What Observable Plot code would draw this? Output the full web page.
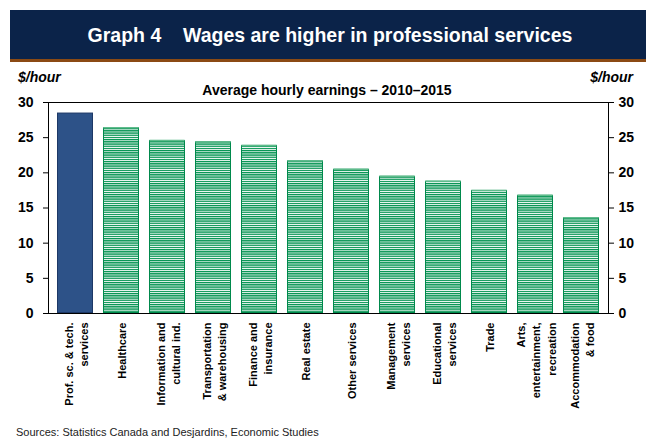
<!DOCTYPE html>
<html>
<head>
<meta charset="utf-8">
<script src="https://cdn.jsdelivr.net/npm/d3@7"></script>
<script src="https://cdn.jsdelivr.net/npm/@observablehq/plot@0.6"></script>
<style>
  html, body { margin: 0; padding: 0; background: #fff; }
  #wrap { position: relative; width: 646px; height: 439px; overflow: hidden; font-family: "Liberation Sans", Arial, sans-serif; }
  #header { position: absolute; left: 10px; top: 10px; width: 636px; height: 49px; background: #0b2349; border-bottom: 3px solid #8b4a14; }
  #title { position: absolute; left: 0; width: 640px; text-align: center; color: #fff; font-weight: bold; font-size: 19.5px; line-height: 19.5px; top: 16px; white-space: pre; }
  .unit { position: absolute; top: 70px; font-size: 14px; line-height: 14px; font-weight: bold; font-style: italic; color: #000; }
  #subtitle { position: absolute; left: 0; width: 654px; text-align: center; top: 83px; font-size: 14px; line-height: 14px; font-weight: bold; color: #000; }
  #source { position: absolute; left: 16px; top: 426px; font-size: 11px; line-height: 12px; color: #222; white-space: nowrap; }
  #chart { position: absolute; left: 0; top: 62px; }
</style>
</head>
<body>
<div id="wrap">
  <div id="header"><div id="title">Graph 4    Wages are higher in professional services</div></div>
  <div class="unit" style="left:18px">$/hour</div>
  <div class="unit" style="right:13px">$/hour</div>
  <div id="subtitle">Average hourly earnings – 2010–2015</div>
  <div id="chart"></div>
  <div id="source">Sources: Statistics Canada and Desjardins, Economic Studies</div>
</div>
<script>
const categories = [
  "Prof. sc. & tech. services", "Healthcare", "Information and cultural ind.",
  "Transportation & warehousing", "Finance and insurance", "Real estate",
  "Other services", "Management services", "Educational services",
  "Trade", "Arts, entertainment, recreation", "Accommodation & food"
];
const tickLabels = [
  "Prof. sc. & tech.\nservices", "Healthcare", "Information and\ncultural ind.",
  "Transportation\n& warehousing", "Finance and\ninsurance", "Real estate",
  "Other services", "Management\nservices", "Educational\nservices",
  "Trade", "Arts,\nentertainment,\nrecreation", "Accommodation\n& food"
];
const values = [28.5, 26.4, 24.6, 24.4, 23.9, 21.7, 20.5, 19.5, 18.8, 17.5, 16.8, 13.6];
const yTicks = [0, 5, 10, 15, 20, 25, 30];
const highlighted = "Prof. sc. & tech. services";

const data = categories.map((c, i) => ({cat: c, value: values[i], label: tickLabels[i]}));
const hi = data.filter(d => d.cat === highlighted);
const rest = data.filter(d => d.cat !== highlighted);

const chart = Plot.plot({
  width: 646,
  height: 377,
  marginLeft: 48,
  marginRight: 38,
  marginTop: 40,
  marginBottom: 126,
  style: {fontFamily: "'Liberation Sans', Arial, sans-serif", fontWeight: "bold", color: "#000", background: "transparent"},
  x: {domain: categories, paddingInner: 0.215, paddingOuter: 0.125, axis: null},
  y: {domain: [0, 30], axis: null},
  marks: [
    Plot.barY(hi, {x: "cat", y: "value", fill: "#2d5288", stroke: "#1d3866", strokeWidth: 1, inset: 0.5}),
    Plot.barY(rest, {x: "cat", y: "value", fill: "url(#stripes)", stroke: "#00894c", strokeWidth: 1, inset: 0.5}),
    Plot.tickY(rest, {x: "cat", y: "value", stroke: "#5fbb8c", strokeWidth: 1.5, inset: 0.5}),
    Plot.axisY({anchor: "left", ticks: yTicks, tickSize: 5, tickPadding: 10, fontSize: 14, label: null, tickFormat: d => String(d)}),
    Plot.axisY({anchor: "right", ticks: yTicks, tickSize: 5, tickPadding: 5, fontSize: 14, label: null, tickFormat: d => String(d)}),
    Plot.frame({stroke: "#000", strokeWidth: 1}),
    Plot.text(data, {x: "cat", y: 0, text: "label", rotate: -90, textAnchor: "end", lineAnchor: "middle", lineHeight: 1.4, fontSize: 11, fontWeight: "bold", dy: 9, fill: "#000"})
  ]
});

const ns = "http://www.w3.org/2000/svg";
const defs = document.createElementNS(ns, "defs");
defs.innerHTML = '<pattern id="stripes" patternUnits="userSpaceOnUse" x="0" y="0" width="8" height="2.2">' +
  '<rect width="8" height="2.2" fill="#ffffff"/><rect width="8" height="1.3" fill="#00924f"/></pattern>';
chart.insertBefore(defs, chart.firstChild);
document.getElementById("chart").appendChild(chart);
</script>
</body>
</html>
